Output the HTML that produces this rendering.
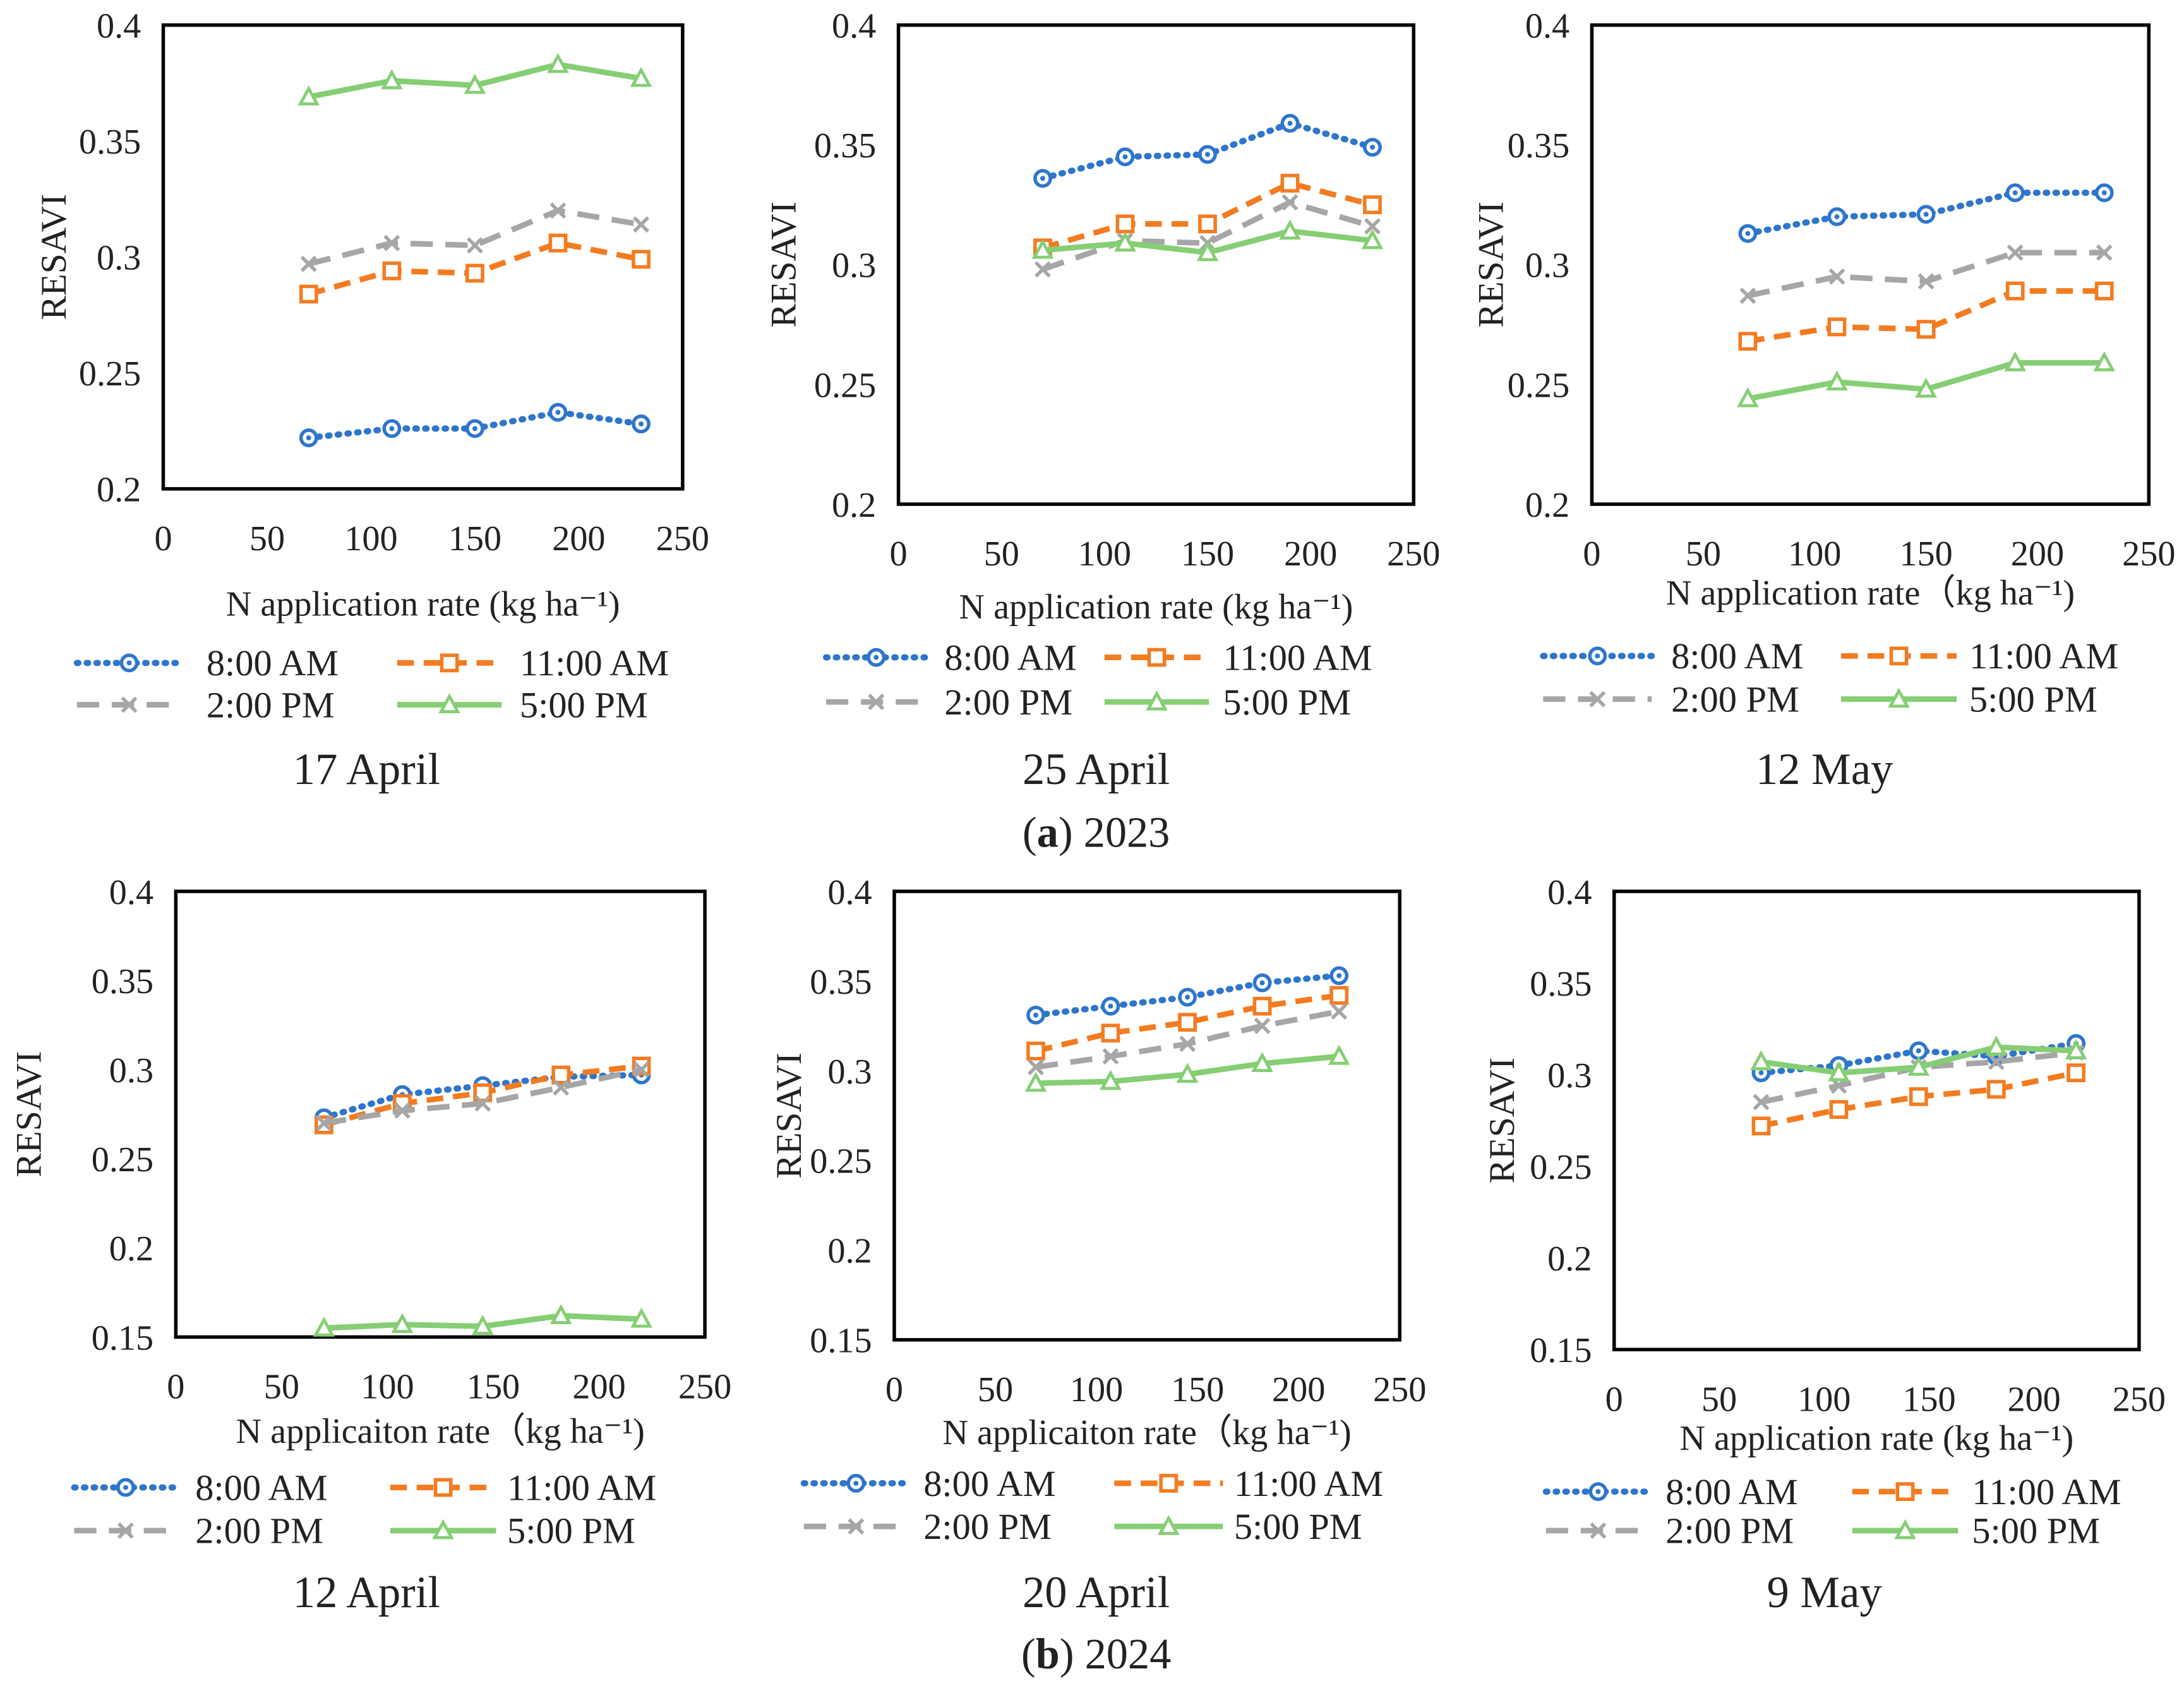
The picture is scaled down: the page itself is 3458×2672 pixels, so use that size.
<!DOCTYPE html>
<html><head><meta charset="utf-8"><style>
html,body{margin:0;padding:0;background:#fff}
svg{display:block}
text{font-family:"Liberation Serif",serif;fill:#222}
</style></head><body>
<svg id="fig" width="3458" height="2672" viewBox="0 0 1568 1212" xmlns="http://www.w3.org/2000/svg">
<text x="787" y="608" font-size="31" text-anchor="middle">(<tspan font-weight="bold">a</tspan>) 2023</text>
<text x="787" y="1198" font-size="31" text-anchor="middle">(<tspan font-weight="bold">b</tspan>) 2024</text>
</svg>
<script>
// ---- data ----
const xTicks = [0, 50, 100, 150, 200, 250];
const yTicksA = [0.2, 0.25, 0.3, 0.35, 0.4];
const yTicksB = [0.15, 0.2, 0.25, 0.3, 0.35, 0.4];
const seriesNames = ["8:00 AM", "11:00 AM", "2:00 PM", "5:00 PM"];
const nRatesA = [70, 110, 150, 190, 230];
const nRatesB = [70, 107, 145, 182, 220];
const p1_am8 = [0.222, 0.226, 0.226, 0.233, 0.228];
const p1_am11 = [0.284, 0.294, 0.293, 0.306, 0.299];
const p1_pm2 = [0.297, 0.306, 0.305, 0.320, 0.314];
const p1_pm5 = [0.369, 0.376, 0.374, 0.383, 0.377];
const p2_am8 = [0.336, 0.345, 0.346, 0.359, 0.349];
const p2_am11 = [0.307, 0.317, 0.317, 0.334, 0.325];
const p2_pm2 = [0.298, 0.310, 0.309, 0.326, 0.316];
const p2_pm5 = [0.306, 0.309, 0.305, 0.314, 0.310];
const p3_am8 = [0.313, 0.320, 0.321, 0.330, 0.330];
const p3_am11 = [0.268, 0.274, 0.273, 0.289, 0.289];
const p3_pm2 = [0.287, 0.295, 0.293, 0.305, 0.305];
const p3_pm5 = [0.244, 0.251, 0.248, 0.259, 0.259];
const p4_am8 = [0.273, 0.286, 0.291, 0.296, 0.297];
const p4_am11 = [0.269, 0.281, 0.287, 0.297, 0.302];
const p4_pm2 = [0.270, 0.277, 0.281, 0.290, 0.300];
const p4_pm5 = [0.155, 0.157, 0.156, 0.162, 0.160];
const p5_am8 = [0.331, 0.336, 0.341, 0.349, 0.353];
const p5_am11 = [0.311, 0.321, 0.327, 0.336, 0.342];
const p5_pm2 = [0.302, 0.308, 0.315, 0.325, 0.333];
const p5_pm5 = [0.293, 0.294, 0.298, 0.304, 0.308];
const p6_am8 = [0.301, 0.305, 0.313, 0.310, 0.317];
const p6_am11 = [0.272, 0.281, 0.288, 0.292, 0.301];
const p6_pm2 = [0.285, 0.294, 0.304, 0.307, 0.312];
const p6_pm5 = [0.307, 0.301, 0.304, 0.315, 0.313];
const panelTitles = ["17 April", "25 April", "12 May", "12 April", "20 April", "9 May"];
const xTitles = ["N application rate (kg ha\u207B\u00B9)", "N application rate (kg ha\u207B\u00B9)", "N application rate\uFF08kg ha\u207B\u00B9)",
  "N applicaiton rate\uFF08kg ha\u207B\u00B9)", "N applicaiton rate\uFF08kg ha\u207B\u00B9)", "N application rate (kg ha\u207B\u00B9)"];

// ---- layout ----
const panels = [
 {L:117,T:18,R:490,B:351,ymin:0.2,ymax:0.4,yt:yTicksA,xs:nRatesA,s:[p1_am8,p1_am11,p1_pm2,p1_pm5],ytx:38,xty:433,lr:[476,506],lx:[55,130,148,285,360,373],ty:552,cx:263},
 {L:645,T:18,R:1015,B:362,ymin:0.2,ymax:0.4,yt:yTicksA,xs:nRatesA,s:[p2_am8,p2_am11,p2_pm2,p2_pm5],ytx:562,xty:435,lr:[472,504],lx:[593,665,678,793,868,878],ty:552,cx:787},
 {L:1143,T:18,R:1543,B:362,ymin:0.2,ymax:0.4,yt:yTicksA,xs:nRatesA,s:[p3_am8,p3_am11,p3_pm2,p3_pm5],ytx:1070,xty:425,lr:[471,502],lx:[1108,1186,1200,1322,1405,1414],ty:552,cx:1310},
 {L:126,T:640,R:506,B:960,ymin:0.15,ymax:0.4,yt:yTicksB,xs:nRatesB,s:[p4_am8,p4_am11,p4_pm2,p4_pm5],ytx:20,xty:1027,lr:[1068,1099],lx:[53,127,140,280,356,364],ty:1143,cx:263},
 {L:642,T:640,R:1005,B:962,ymin:0.15,ymax:0.4,yt:yTicksB,xs:nRatesB,s:[p5_am8,p5_am11,p5_pm2,p5_pm5],ytx:566,xty:1028,lr:[1065,1096],lx:[577,652,663,800,878,886],ty:1143,cx:787},
 {L:1159,T:640,R:1536,B:969,ymin:0.15,ymax:0.4,yt:yTicksB,xs:nRatesB,s:[p6_am8,p6_am11,p6_pm2,p6_pm5],ytx:1078,xty:1032,lr:[1071,1099],lx:[1110,1185,1196,1330,1406,1416],ty:1143,cx:1310}
];
const colors = ["#2E75CC","#F47B20","#A6A6A6","#86CE74"];
const dashes = ["1,6","12,7","16,9",""];
const caps = ["round","butt","butt","butt"];
const widths = [4.5,4,4,4];
const keys = ["am8","am11","pm2","pm5"];
const NS = "http://www.w3.org/2000/svg";
const svg = document.getElementById("fig");
function mk(tag, attrs, parent){ const e=document.createElementNS(NS,tag); for(const k in attrs) e.setAttribute(k,attrs[k]); (parent||svg).appendChild(e); return e; }
function marker(g, i, x, y){
  const c = colors[i];
  if(i===0){ mk("circle",{cx:x,cy:y,r:5.5,fill:"#fff",stroke:c,"stroke-width":2.5},g); mk("circle",{cx:x,cy:y,r:1.8,fill:c},g); }
  else if(i===1){ mk("rect",{x:x-5.5,y:y-5.5,width:11,height:11,fill:"#fff",stroke:c,"stroke-width":2.5},g); }
  else if(i===2){ mk("path",{d:`M${x-5},${y-5}L${x+5},${y+5}M${x-5},${y+5}L${x+5},${y-5}`,stroke:c,"stroke-width":2.5},g); }
  else { mk("path",{d:`M${x},${y-6}L${x+6},${y+5}L${x-6},${y+5}Z`,fill:"#fff",stroke:c,"stroke-width":2.2},g); }
}
panels.forEach((p, pi) => {
  const g = mk("g",{});
  
  
  const xs = v => p.L + (v - 0) / 250 * (p.R - p.L);
  const ys = v => p.B - (v - p.ymin) / (p.ymax - p.ymin) * (p.B - p.T);
  const box = mk("rect",{x:p.L,y:p.T,width:p.R-p.L,height:p.B-p.T,fill:"none",stroke:"#000","stroke-width":2.5},g);
  
  
  p.yt.forEach(v => {
    const t = mk("text",{x:p.L-16,y:ys(v)+9,"font-size":25.5,"text-anchor":"end"},g);
    t.textContent = String(v);
    
    
  });
  xTicks.forEach(v => {
    const t = mk("text",{x:xs(v),y:p.B+44,"font-size":25.5,"text-anchor":"middle"},g);
    t.textContent = String(v);
    
    
  });
  const yt = mk("text",{x:p.ytx,y:(p.T+p.B)/2,"font-size":26,"text-anchor":"middle",transform:`rotate(-90 ${p.ytx} ${(p.T+p.B)/2})`,dy:9},g);
  yt.textContent = "RESAVI";
  
  
  const xt = mk("text",{x:(p.L+p.R)/2,y:p.xty+9,"font-size":25.5,"text-anchor":"middle"},g);
  xt.textContent = xTitles[pi];
  
  
  p.s.forEach((vals, i) => {
    const sg = mk("g",{},g);
    
    
    const pts = vals.map((v,j)=>xs(p.xs[j])+","+ys(v)).join(" ");
    const ln = mk("polyline",{points:pts,fill:"none",stroke:colors[i],"stroke-width":widths[i],"stroke-dasharray":dashes[i],"stroke-linecap":caps[i],"stroke-linejoin":"round"},sg);
    
    
    vals.forEach((v,j)=>marker(sg,i,xs(p.xs[j]),ys(v)));
  });
  const lg = mk("g",{},g);
  
  
  seriesNames.forEach((nm, i) => {
    const row = p.lr[i>>1], col = i%2;
    const x1 = p.lx[col*3], x2 = p.lx[col*3+1], tx = p.lx[col*3+2];
    const eg = mk("g",{},lg);
    
    
    mk("line",{x1:x1,y1:row,x2:x2,y2:row,stroke:colors[i],"stroke-width":widths[i],"stroke-dasharray":dashes[i],"stroke-linecap":caps[i]},eg);
    marker(eg,i,(x1+x2)/2,row);
    const t = mk("text",{x:tx,y:row+9,"font-size":26.5},eg);
    t.textContent = nm;
  });
  const tt = mk("text",{x:p.cx,y:p.ty+11,"font-size":32,"text-anchor":"middle"},g);
  tt.textContent = panelTitles[pi];
  
  
});
</script>
</body></html>
